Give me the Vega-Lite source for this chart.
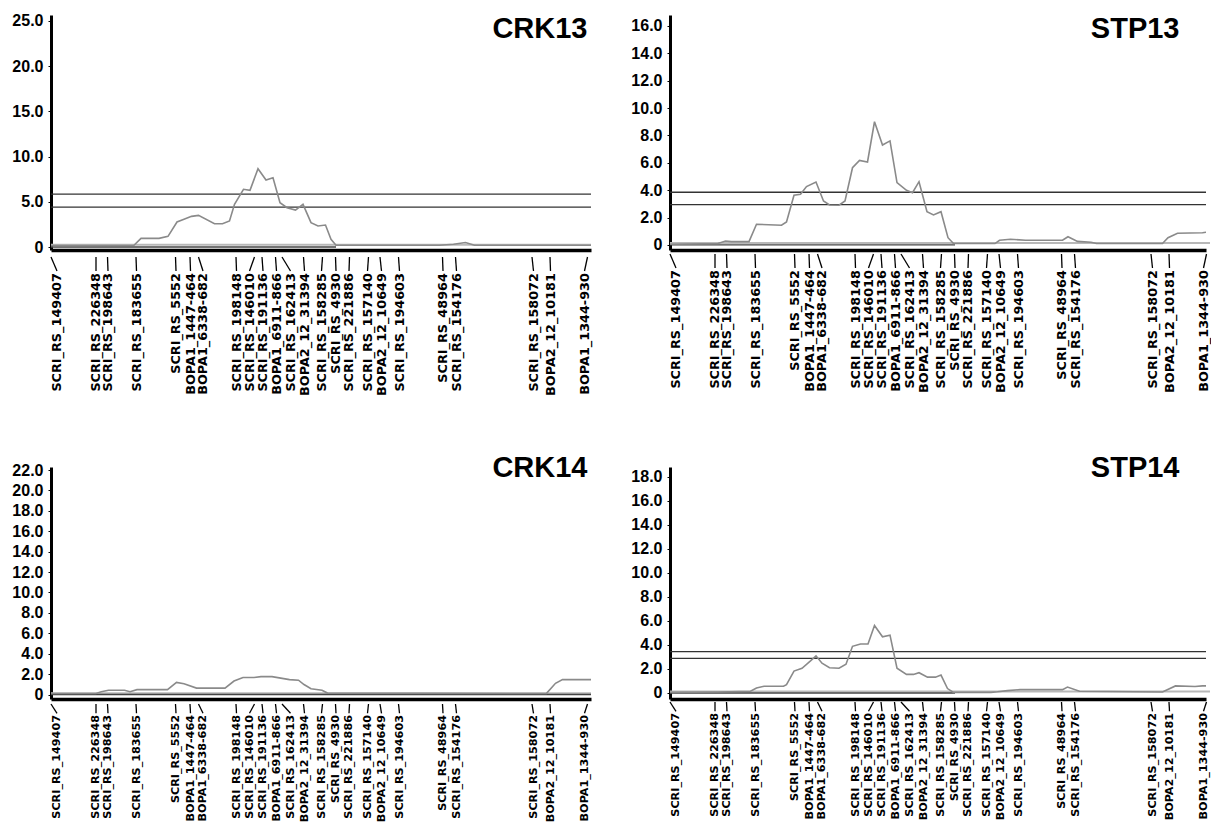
{
  "$schema": "https://vega.github.io/schema/vega-lite/v6.json",
  "padding": {"left": 11, "top": 12, "right": 0, "bottom": 0},
  "background": "white",
  "config": {
    "view": {"stroke": null},
    "axisX": {"labels": false, "ticks": false, "grid": false, "domainColor": "#000", "domainWidth": 3.5},
    "axisY": {"labelExpr": "datum.value === 0 ? '0' : format(datum.value, '.1f')", "labelFont": "Liberation Sans", "labelFontWeight": "bold", "labelFontSize": 16, "labelColor": "#000", "domainColor": "#000", "domainWidth": 3, "tickColor": "#000", "tickSize": 3, "labelPadding": 5, "grid": false}
  },
  "datasets": {
    "markers": [
      {"name": "SCRI_RS_149407", "pos": 0.0, "lpos": 1.2},
      {"name": "SCRI_RS_226348", "pos": 9.0, "lpos": 9.0},
      {"name": "SCRI_RS_198643", "pos": 11.3, "lpos": 11.4},
      {"name": "SCRI_RS_183655", "pos": 17.0, "lpos": 17.1},
      {"name": "SCRI_RS_5552", "pos": 24.9, "lpos": 25.0},
      {"name": "BOPA1_1447-464", "pos": 27.8, "lpos": 27.9},
      {"name": "BOPA1_6338-682", "pos": 29.5, "lpos": 30.4},
      {"name": "SCRI_RS_198148", "pos": 37.0, "lpos": 37.1},
      {"name": "SCRI_RS_146010", "pos": 40.7, "lpos": 39.7},
      {"name": "SCRI_RS_191136", "pos": 42.2, "lpos": 42.4},
      {"name": "BOPA1_6911-866", "pos": 44.9, "lpos": 45.1},
      {"name": "SCRI_RS_162413", "pos": 46.2, "lpos": 47.9},
      {"name": "BOPA2_12_31394", "pos": 50.5, "lpos": 50.7},
      {"name": "SCRI_RS_158285", "pos": 54.3, "lpos": 54.1},
      {"name": "SCRI_RS_4930", "pos": 56.9, "lpos": 57.0},
      {"name": "SCRI_RS_221886", "pos": 59.7, "lpos": 59.6},
      {"name": "SCRI_RS_157140", "pos": 63.5, "lpos": 63.3},
      {"name": "BOPA2_12_10649", "pos": 65.8, "lpos": 66.1},
      {"name": "SCRI_RS_194603", "pos": 69.5, "lpos": 69.7},
      {"name": "SCRI_RS_48964", "pos": 78.3, "lpos": 78.4},
      {"name": "SCRI_RS_154176", "pos": 80.9, "lpos": 81.1},
      {"name": "SCRI_RS_158072", "pos": 96.2, "lpos": 96.5},
      {"name": "BOPA2_12_10181", "pos": 99.8, "lpos": 99.9},
      {"name": "BOPA1_1344-930", "pos": 107.3, "lpos": 106.7}
    ],
    "thr": [
      {"trait": "CRK13", "value": 5.86},
      {"trait": "CRK13", "value": 4.42},
      {"trait": "STP13", "value": 3.85},
      {"trait": "STP13", "value": 2.95},
      {"trait": "STP14", "value": 3.45},
      {"trait": "STP14", "value": 2.88}
    ],
    "base": [
      {"trait": "CRK13", "tone": "light", "y": 0.25, "x1": 0, "x2": 108},
      {"trait": "CRK13", "tone": "dark", "y": 0.0, "x1": 0, "x2": 57},
      {"trait": "STP13", "tone": "light", "y": 0.15, "x1": 0, "x2": 108},
      {"trait": "STP13", "tone": "dark", "y": 0.0, "x1": 0, "x2": 57},
      {"trait": "CRK14", "tone": "light", "y": 0.12, "x1": 0, "x2": 108},
      {"trait": "CRK14", "tone": "dark", "y": 0.0, "x1": 0, "x2": 108},
      {"trait": "STP14", "tone": "light", "y": 0.12, "x1": 0, "x2": 108},
      {"trait": "STP14", "tone": "dark", "y": 0.0, "x1": 0, "x2": 57}
    ],
    "lod": [
      {"trait": "CRK13", "cM": 0, "lod": 0.15},
      {"trait": "CRK13", "cM": 16.6, "lod": 0.2},
      {"trait": "CRK13", "cM": 18.0, "lod": 0.96},
      {"trait": "CRK13", "cM": 21.6, "lod": 0.96},
      {"trait": "CRK13", "cM": 23.4, "lod": 1.18},
      {"trait": "CRK13", "cM": 25.2, "lod": 2.77},
      {"trait": "CRK13", "cM": 26.6, "lod": 3.06},
      {"trait": "CRK13", "cM": 28.1, "lod": 3.39},
      {"trait": "CRK13", "cM": 29.5, "lod": 3.5},
      {"trait": "CRK13", "cM": 32.7, "lod": 2.58},
      {"trait": "CRK13", "cM": 34.3, "lod": 2.58},
      {"trait": "CRK13", "cM": 35.7, "lod": 2.88},
      {"trait": "CRK13", "cM": 36.7, "lod": 4.72},
      {"trait": "CRK13", "cM": 38.5, "lod": 6.38},
      {"trait": "CRK13", "cM": 39.8, "lod": 6.27},
      {"trait": "CRK13", "cM": 41.4, "lod": 8.66},
      {"trait": "CRK13", "cM": 43.0, "lod": 7.41},
      {"trait": "CRK13", "cM": 44.4, "lod": 7.67},
      {"trait": "CRK13", "cM": 45.8, "lod": 4.9},
      {"trait": "CRK13", "cM": 47.2, "lod": 4.35},
      {"trait": "CRK13", "cM": 48.9, "lod": 4.09},
      {"trait": "CRK13", "cM": 50.4, "lod": 4.72},
      {"trait": "CRK13", "cM": 52.0, "lod": 2.69},
      {"trait": "CRK13", "cM": 53.4, "lod": 2.32},
      {"trait": "CRK13", "cM": 54.9, "lod": 2.43},
      {"trait": "CRK13", "cM": 56.0, "lod": 0.85},
      {"trait": "CRK13", "cM": 57.0, "lod": 0.2},
      {"trait": "CRK13", "cM": 77.7, "lod": 0.2},
      {"trait": "CRK13", "cM": 80.5, "lod": 0.3},
      {"trait": "CRK13", "cM": 82.9, "lod": 0.5},
      {"trait": "CRK13", "cM": 84.7, "lod": 0.2},
      {"trait": "CRK13", "cM": 108, "lod": 0.2},

      {"trait": "STP13", "cM": 0, "lod": 0.05},
      {"trait": "STP13", "cM": 9.6, "lod": 0.1},
      {"trait": "STP13", "cM": 11.1, "lod": 0.29},
      {"trait": "STP13", "cM": 12.3, "lod": 0.24},
      {"trait": "STP13", "cM": 15.8, "lod": 0.24},
      {"trait": "STP13", "cM": 17.3, "lod": 1.51},
      {"trait": "STP13", "cM": 22.3, "lod": 1.44},
      {"trait": "STP13", "cM": 23.3, "lod": 1.68},
      {"trait": "STP13", "cM": 24.8, "lod": 3.63},
      {"trait": "STP13", "cM": 26.1, "lod": 3.7},
      {"trait": "STP13", "cM": 27.3, "lod": 4.26},
      {"trait": "STP13", "cM": 29.2, "lod": 4.6},
      {"trait": "STP13", "cM": 30.7, "lod": 3.21},
      {"trait": "STP13", "cM": 31.9, "lod": 2.92},
      {"trait": "STP13", "cM": 33.8, "lod": 2.9},
      {"trait": "STP13", "cM": 35.0, "lod": 3.21},
      {"trait": "STP13", "cM": 36.5, "lod": 5.64},
      {"trait": "STP13", "cM": 37.9, "lod": 6.18},
      {"trait": "STP13", "cM": 39.5, "lod": 6.06},
      {"trait": "STP13", "cM": 40.9, "lod": 9.0},
      {"trait": "STP13", "cM": 42.5, "lod": 7.3},
      {"trait": "STP13", "cM": 44.0, "lod": 7.6},
      {"trait": "STP13", "cM": 45.4, "lod": 4.55},
      {"trait": "STP13", "cM": 47.3, "lod": 3.99},
      {"trait": "STP13", "cM": 48.5, "lod": 3.82},
      {"trait": "STP13", "cM": 49.8, "lod": 4.62},
      {"trait": "STP13", "cM": 51.4, "lod": 2.43},
      {"trait": "STP13", "cM": 52.7, "lod": 2.19},
      {"trait": "STP13", "cM": 54.2, "lod": 2.43},
      {"trait": "STP13", "cM": 55.6, "lod": 0.53},
      {"trait": "STP13", "cM": 56.7, "lod": 0.1},
      {"trait": "STP13", "cM": 65.0, "lod": 0.1},
      {"trait": "STP13", "cM": 65.9, "lod": 0.34},
      {"trait": "STP13", "cM": 68.1, "lod": 0.42},
      {"trait": "STP13", "cM": 71.1, "lod": 0.34},
      {"trait": "STP13", "cM": 78.5, "lod": 0.34},
      {"trait": "STP13", "cM": 79.6, "lod": 0.6},
      {"trait": "STP13", "cM": 81.5, "lod": 0.26},
      {"trait": "STP13", "cM": 84.2, "lod": 0.2},
      {"trait": "STP13", "cM": 85.3, "lod": 0.1},
      {"trait": "STP13", "cM": 98.5, "lod": 0.1},
      {"trait": "STP13", "cM": 99.6, "lod": 0.53},
      {"trait": "STP13", "cM": 101.5, "lod": 0.85},
      {"trait": "STP13", "cM": 106.5, "lod": 0.89},
      {"trait": "STP13", "cM": 107.8, "lod": 0.95},

      {"trait": "CRK14", "cM": 0, "lod": 0.1},
      {"trait": "CRK14", "cM": 9.0, "lod": 0.1},
      {"trait": "CRK14", "cM": 10.05, "lod": 0.28},
      {"trait": "CRK14", "cM": 11.5, "lod": 0.42},
      {"trait": "CRK14", "cM": 14.7, "lod": 0.42},
      {"trait": "CRK14", "cM": 15.8, "lod": 0.28},
      {"trait": "CRK14", "cM": 17.2, "lod": 0.48},
      {"trait": "CRK14", "cM": 23.3, "lod": 0.48},
      {"trait": "CRK14", "cM": 25.1, "lod": 1.19},
      {"trait": "CRK14", "cM": 26.6, "lod": 1.05},
      {"trait": "CRK14", "cM": 29.1, "lod": 0.63},
      {"trait": "CRK14", "cM": 34.8, "lod": 0.63},
      {"trait": "CRK14", "cM": 36.6, "lod": 1.32},
      {"trait": "CRK14", "cM": 38.4, "lod": 1.67},
      {"trait": "CRK14", "cM": 40.6, "lod": 1.67},
      {"trait": "CRK14", "cM": 42.0, "lod": 1.75},
      {"trait": "CRK14", "cM": 44.2, "lod": 1.75},
      {"trait": "CRK14", "cM": 47.7, "lod": 1.46},
      {"trait": "CRK14", "cM": 49.5, "lod": 1.4},
      {"trait": "CRK14", "cM": 50.6, "lod": 0.98},
      {"trait": "CRK14", "cM": 52.0, "lod": 0.56},
      {"trait": "CRK14", "cM": 54.2, "lod": 0.42},
      {"trait": "CRK14", "cM": 55.3, "lod": 0.14},
      {"trait": "CRK14", "cM": 97.3, "lod": 0.1},
      {"trait": "CRK14", "cM": 99.1, "lod": 0.11},
      {"trait": "CRK14", "cM": 100.9, "lod": 1.1},
      {"trait": "CRK14", "cM": 102.3, "lod": 1.46},
      {"trait": "CRK14", "cM": 108, "lod": 1.46},

      {"trait": "STP14", "cM": 0, "lod": 0.05},
      {"trait": "STP14", "cM": 9.6, "lod": 0.08},
      {"trait": "STP14", "cM": 16.1, "lod": 0.14},
      {"trait": "STP14", "cM": 17.3, "lod": 0.42},
      {"trait": "STP14", "cM": 18.8, "lod": 0.56},
      {"trait": "STP14", "cM": 22.7, "lod": 0.56},
      {"trait": "STP14", "cM": 23.3, "lod": 0.7},
      {"trait": "STP14", "cM": 24.8, "lod": 1.83},
      {"trait": "STP14", "cM": 26.4, "lod": 2.06},
      {"trait": "STP14", "cM": 28.1, "lod": 2.68},
      {"trait": "STP14", "cM": 29.2, "lod": 3.1},
      {"trait": "STP14", "cM": 30.4, "lod": 2.48},
      {"trait": "STP14", "cM": 31.9, "lod": 2.11},
      {"trait": "STP14", "cM": 33.8, "lod": 2.06},
      {"trait": "STP14", "cM": 35.2, "lod": 2.39},
      {"trait": "STP14", "cM": 36.5, "lod": 3.89},
      {"trait": "STP14", "cM": 38.1, "lod": 4.08},
      {"trait": "STP14", "cM": 39.6, "lod": 4.08},
      {"trait": "STP14", "cM": 40.9, "lod": 5.63},
      {"trait": "STP14", "cM": 42.5, "lod": 4.68},
      {"trait": "STP14", "cM": 44.0, "lod": 4.82},
      {"trait": "STP14", "cM": 45.4, "lod": 2.06},
      {"trait": "STP14", "cM": 47.3, "lod": 1.55},
      {"trait": "STP14", "cM": 48.7, "lod": 1.55},
      {"trait": "STP14", "cM": 49.8, "lod": 1.69},
      {"trait": "STP14", "cM": 51.5, "lod": 1.32},
      {"trait": "STP14", "cM": 53.1, "lod": 1.32},
      {"trait": "STP14", "cM": 54.2, "lod": 1.49},
      {"trait": "STP14", "cM": 55.5, "lod": 0.37},
      {"trait": "STP14", "cM": 56.7, "lod": 0.05},
      {"trait": "STP14", "cM": 64.2, "lod": 0.05},
      {"trait": "STP14", "cM": 65.5, "lod": 0.1},
      {"trait": "STP14", "cM": 67.5, "lod": 0.2},
      {"trait": "STP14", "cM": 70.0, "lod": 0.28},
      {"trait": "STP14", "cM": 78.5, "lod": 0.28},
      {"trait": "STP14", "cM": 79.5, "lod": 0.5},
      {"trait": "STP14", "cM": 81.9, "lod": 0.14},
      {"trait": "STP14", "cM": 98.5, "lod": 0.08},
      {"trait": "STP14", "cM": 101.1, "lod": 0.59},
      {"trait": "STP14", "cM": 105.0, "lod": 0.54},
      {"trait": "STP14", "cM": 106.5, "lod": 0.59},
      {"trait": "STP14", "cM": 107.8, "lod": 0.6}
    ]
  },
  "spacing": 57,
  "resolve": {"scale": {"x": "independent", "y": "independent"}},
  "vconcat": [
    {
      "spacing": 35,
      "resolve": {"scale": {"x": "independent", "y": "independent"}},
      "hconcat": [
        {
          "spacing": 0,
          "resolve": {"scale": {"x": "independent", "y": "independent"}},
          "vconcat": [
            {
              "width": 540, "height": 235,
              "layer": [
                {"data": {"name": "base"}, "transform": [{"filter": "datum.trait === 'CRK13' && datum.tone === 'light'"}],
                 "mark": {"type": "rule", "color": "#b8b8b8", "strokeWidth": 2},
                 "encoding": {
                   "x": {"field": "x1", "type": "quantitative", "title": null, "scale": {"domain": [0, 108], "nice": false, "zero": false}},
                   "x2": {"field": "x2"},
                   "y": {"field": "y", "type": "quantitative", "title": null, "scale": {"domain": [-0.33, 25.66], "nice": false, "zero": false}, "axis": {"values": [0, 5, 10, 15, 20, 25]}}
                 }},
                {"data": {"name": "base"}, "transform": [{"filter": "datum.trait === 'CRK13' && datum.tone === 'dark'"}],
                 "mark": {"type": "rule", "color": "#444", "strokeWidth": 1.3},
                 "encoding": {"x": {"field": "x1", "type": "quantitative", "title": null}, "x2": {"field": "x2"}, "y": {"field": "y", "type": "quantitative", "title": null, "axis": {"values": [0, 5, 10, 15, 20, 25]}}}},
                {"data": {"name": "thr"}, "transform": [{"filter": "datum.trait === 'CRK13'"}],
                 "mark": {"type": "rule", "color": "#333", "strokeWidth": 1.3},
                 "encoding": {"y": {"field": "value", "type": "quantitative", "title": null, "axis": {"values": [0, 5, 10, 15, 20, 25]}}}},
                {"data": {"name": "lod"}, "transform": [{"filter": "datum.trait === 'CRK13'"}],
                 "mark": {"type": "line", "color": "#8a8a8a", "strokeWidth": 1.6},
                 "encoding": {"x": {"field": "cM", "type": "quantitative", "title": null}, "y": {"field": "lod", "type": "quantitative", "title": null, "axis": {"values": [0, 5, 10, 15, 20, 25]}}}},
                {"data": {"values": [{}]},
                 "mark": {"type": "text", "align": "right", "baseline": "top", "font": "Liberation Sans", "fontWeight": "bold", "fontSize": 29, "color": "#000"},
                 "encoding": {"x": {"datum": 107.3, "type": "quantitative", "title": null}, "y": {"datum": 25.66, "type": "quantitative", "title": null, "axis": {"values": [0, 5, 10, 15, 20, 25]}}, "text": {"value": "CRK13"}}}
              ]
            },
            {
              "width": 540, "height": 140,
              "data": {"name": "markers"},
              "layer": [
                {"mark": {"type": "rule", "color": "#000", "strokeWidth": 1.3},
                 "encoding": {"x": {"field": "pos", "type": "quantitative", "scale": {"domain": [0, 108], "nice": false, "zero": false}, "axis": null},
                              "x2": {"field": "lpos"},
                              "y": {"datum": 1, "type": "quantitative", "scale": {"domain": [0, 1], "nice": false, "zero": false}, "axis": null},
                              "y2": {"datum": 0.9}}},
                {"mark": {"type": "text", "angle": 270, "align": "right", "baseline": "middle", "font": "DejaVu Sans", "fontWeight": "bold", "fontSize": 12.8, "color": "#000"},
                 "encoding": {"x": {"field": "lpos", "type": "quantitative", "axis": null}, "y": {"datum": 0.885, "type": "quantitative", "axis": null}, "text": {"field": "name"}}}
              ]
            }
          ]
        },
        {
          "spacing": 0,
          "resolve": {"scale": {"x": "independent", "y": "independent"}},
          "vconcat": [
            {
              "width": 536, "height": 235,
              "layer": [
                {"data": {"name": "base"}, "transform": [{"filter": "datum.trait === 'STP13' && datum.tone === 'light'"}],
                 "mark": {"type": "rule", "color": "#b8b8b8", "strokeWidth": 2},
                 "encoding": {
                   "x": {"field": "x1", "type": "quantitative", "title": null, "scale": {"domain": [0, 107.2], "nice": false, "zero": false}},
                   "x2": {"field": "x2"},
                   "y": {"field": "y", "type": "quantitative", "title": null, "scale": {"domain": [-0.37, 16.8], "nice": false, "zero": false}, "axis": {"values": [0, 2, 4, 6, 8, 10, 12, 14, 16]}}
                 }},
                {"data": {"name": "base"}, "transform": [{"filter": "datum.trait === 'STP13' && datum.tone === 'dark'"}],
                 "mark": {"type": "rule", "color": "#444", "strokeWidth": 1.3},
                 "encoding": {"x": {"field": "x1", "type": "quantitative", "title": null}, "x2": {"field": "x2"}, "y": {"field": "y", "type": "quantitative", "title": null, "axis": {"values": [0, 2, 4, 6, 8, 10, 12, 14, 16]}}}},
                {"data": {"name": "thr"}, "transform": [{"filter": "datum.trait === 'STP13'"}],
                 "mark": {"type": "rule", "color": "#333", "strokeWidth": 1.3},
                 "encoding": {"y": {"field": "value", "type": "quantitative", "title": null, "axis": {"values": [0, 2, 4, 6, 8, 10, 12, 14, 16]}}}},
                {"data": {"name": "lod"}, "transform": [{"filter": "datum.trait === 'STP13'"}],
                 "mark": {"type": "line", "color": "#8a8a8a", "strokeWidth": 1.6, "clip": true},
                 "encoding": {"x": {"field": "cM", "type": "quantitative", "title": null}, "y": {"field": "lod", "type": "quantitative", "title": null, "axis": {"values": [0, 2, 4, 6, 8, 10, 12, 14, 16]}}}},
                {"data": {"values": [{}]},
                 "mark": {"type": "text", "align": "right", "baseline": "top", "font": "Liberation Sans", "fontWeight": "bold", "fontSize": 29, "color": "#000"},
                 "encoding": {"x": {"datum": 101.9, "type": "quantitative", "title": null}, "y": {"datum": 16.8, "type": "quantitative", "title": null, "axis": {"values": [0, 2, 4, 6, 8, 10, 12, 14, 16]}}, "text": {"value": "STP13"}}}
              ]
            },
            {
              "width": 536, "height": 140,
              "data": {"name": "markers"},
              "layer": [
                {"mark": {"type": "rule", "color": "#000", "strokeWidth": 1.3},
                 "encoding": {"x": {"field": "pos", "type": "quantitative", "scale": {"domain": [0, 107.2], "nice": false, "zero": false}, "axis": null},
                              "x2": {"field": "lpos"},
                              "y": {"datum": 1, "type": "quantitative", "scale": {"domain": [0, 1], "nice": false, "zero": false}, "axis": null},
                              "y2": {"datum": 0.9}}},
                {"mark": {"type": "text", "angle": 270, "align": "right", "baseline": "middle", "font": "DejaVu Sans", "fontWeight": "bold", "fontSize": 12.8, "color": "#000"},
                 "encoding": {"x": {"field": "lpos", "type": "quantitative", "axis": null}, "y": {"datum": 0.885, "type": "quantitative", "axis": null}, "text": {"field": "name"}}}
              ]
            }
          ]
        }
      ]
    },
    {
      "spacing": 35,
      "resolve": {"scale": {"x": "independent", "y": "independent"}},
      "hconcat": [
        {
          "spacing": 0,
          "resolve": {"scale": {"x": "independent", "y": "independent"}},
          "vconcat": [
            {
              "width": 540, "height": 232,
              "layer": [
                {"data": {"name": "base"}, "transform": [{"filter": "datum.trait === 'CRK14' && datum.tone === 'light'"}],
                 "mark": {"type": "rule", "color": "#b8b8b8", "strokeWidth": 2},
                 "encoding": {
                   "x": {"field": "x1", "type": "quantitative", "title": null, "scale": {"domain": [0, 108], "nice": false, "zero": false}},
                   "x2": {"field": "x2"},
                   "y": {"field": "y", "type": "quantitative", "title": null, "scale": {"domain": [-0.44, 22.3], "nice": false, "zero": false}, "axis": {"values": [0, 2, 4, 6, 8, 10, 12, 14, 16, 18, 20, 22]}}
                 }},
                {"data": {"name": "base"}, "transform": [{"filter": "datum.trait === 'CRK14' && datum.tone === 'dark'"}],
                 "mark": {"type": "rule", "color": "#444", "strokeWidth": 1.3},
                 "encoding": {"x": {"field": "x1", "type": "quantitative", "title": null}, "x2": {"field": "x2"}, "y": {"field": "y", "type": "quantitative", "title": null, "axis": {"values": [0, 2, 4, 6, 8, 10, 12, 14, 16, 18, 20, 22]}}}},
                {"data": {"name": "lod"}, "transform": [{"filter": "datum.trait === 'CRK14'"}],
                 "mark": {"type": "line", "color": "#8a8a8a", "strokeWidth": 1.6},
                 "encoding": {"x": {"field": "cM", "type": "quantitative", "title": null}, "y": {"field": "lod", "type": "quantitative", "title": null, "axis": {"values": [0, 2, 4, 6, 8, 10, 12, 14, 16, 18, 20, 22]}}}},
                {"data": {"values": [{}]},
                 "mark": {"type": "text", "align": "right", "baseline": "top", "dy": -13, "font": "Liberation Sans", "fontWeight": "bold", "fontSize": 29, "color": "#000"},
                 "encoding": {"x": {"datum": 107.3, "type": "quantitative", "title": null}, "y": {"datum": 22.3, "type": "quantitative", "title": null, "axis": {"values": [0, 2, 4, 6, 8, 10, 12, 14, 16, 18, 20, 22]}}, "text": {"value": "CRK14"}}}
              ]
            },
            {
              "width": 540, "height": 116,
              "data": {"name": "markers"},
              "layer": [
                {"mark": {"type": "rule", "color": "#000", "strokeWidth": 1.3},
                 "encoding": {"x": {"field": "pos", "type": "quantitative", "scale": {"domain": [0, 108], "nice": false, "zero": false}, "axis": null},
                              "x2": {"field": "lpos"},
                              "y": {"datum": 1, "type": "quantitative", "scale": {"domain": [0, 1], "nice": false, "zero": false}, "axis": null},
                              "y2": {"datum": 0.92}}},
                {"mark": {"type": "text", "angle": 270, "align": "right", "baseline": "middle", "font": "DejaVu Sans", "fontWeight": "bold", "fontSize": 11.2, "color": "#000"},
                 "encoding": {"x": {"field": "lpos", "type": "quantitative", "axis": null}, "y": {"datum": 0.905, "type": "quantitative", "axis": null}, "text": {"field": "name"}}}
              ]
            }
          ]
        },
        {
          "spacing": 0,
          "resolve": {"scale": {"x": "independent", "y": "independent"}},
          "vconcat": [
            {
              "width": 536, "height": 232,
              "layer": [
                {"data": {"name": "base"}, "transform": [{"filter": "datum.trait === 'STP14' && datum.tone === 'light'"}],
                 "mark": {"type": "rule", "color": "#b8b8b8", "strokeWidth": 2},
                 "encoding": {
                   "x": {"field": "x1", "type": "quantitative", "title": null, "scale": {"domain": [0, 107.2], "nice": false, "zero": false}},
                   "x2": {"field": "x2"},
                   "y": {"field": "y", "type": "quantitative", "title": null, "scale": {"domain": [-0.5, 18.83], "nice": false, "zero": false}, "axis": {"values": [0, 2, 4, 6, 8, 10, 12, 14, 16, 18]}}
                 }},
                {"data": {"name": "base"}, "transform": [{"filter": "datum.trait === 'STP14' && datum.tone === 'dark'"}],
                 "mark": {"type": "rule", "color": "#444", "strokeWidth": 1.3},
                 "encoding": {"x": {"field": "x1", "type": "quantitative", "title": null}, "x2": {"field": "x2"}, "y": {"field": "y", "type": "quantitative", "title": null, "axis": {"values": [0, 2, 4, 6, 8, 10, 12, 14, 16, 18]}}}},
                {"data": {"name": "thr"}, "transform": [{"filter": "datum.trait === 'STP14'"}],
                 "mark": {"type": "rule", "color": "#333", "strokeWidth": 1.3},
                 "encoding": {"y": {"field": "value", "type": "quantitative", "title": null, "axis": {"values": [0, 2, 4, 6, 8, 10, 12, 14, 16, 18]}}}},
                {"data": {"name": "lod"}, "transform": [{"filter": "datum.trait === 'STP14'"}],
                 "mark": {"type": "line", "color": "#8a8a8a", "strokeWidth": 1.6, "clip": true},
                 "encoding": {"x": {"field": "cM", "type": "quantitative", "title": null}, "y": {"field": "lod", "type": "quantitative", "title": null, "axis": {"values": [0, 2, 4, 6, 8, 10, 12, 14, 16, 18]}}}},
                {"data": {"values": [{}]},
                 "mark": {"type": "text", "align": "right", "baseline": "top", "dy": -13, "font": "Liberation Sans", "fontWeight": "bold", "fontSize": 29, "color": "#000"},
                 "encoding": {"x": {"datum": 101.9, "type": "quantitative", "title": null}, "y": {"datum": 18.83, "type": "quantitative", "title": null, "axis": {"values": [0, 2, 4, 6, 8, 10, 12, 14, 16, 18]}}, "text": {"value": "STP14"}}}
              ]
            },
            {
              "width": 536, "height": 116,
              "data": {"name": "markers"},
              "layer": [
                {"mark": {"type": "rule", "color": "#000", "strokeWidth": 1.3},
                 "encoding": {"x": {"field": "pos", "type": "quantitative", "scale": {"domain": [0, 107.2], "nice": false, "zero": false}, "axis": null},
                              "x2": {"field": "lpos"},
                              "y": {"datum": 1, "type": "quantitative", "scale": {"domain": [0, 1], "nice": false, "zero": false}, "axis": null},
                              "y2": {"datum": 0.92}}},
                {"mark": {"type": "text", "angle": 270, "align": "right", "baseline": "middle", "font": "DejaVu Sans", "fontWeight": "bold", "fontSize": 11.2, "color": "#000"},
                 "encoding": {"x": {"field": "lpos", "type": "quantitative", "axis": null}, "y": {"datum": 0.905, "type": "quantitative", "axis": null}, "text": {"field": "name"}}}
              ]
            }
          ]
        }
      ]
    }
  ]
}
